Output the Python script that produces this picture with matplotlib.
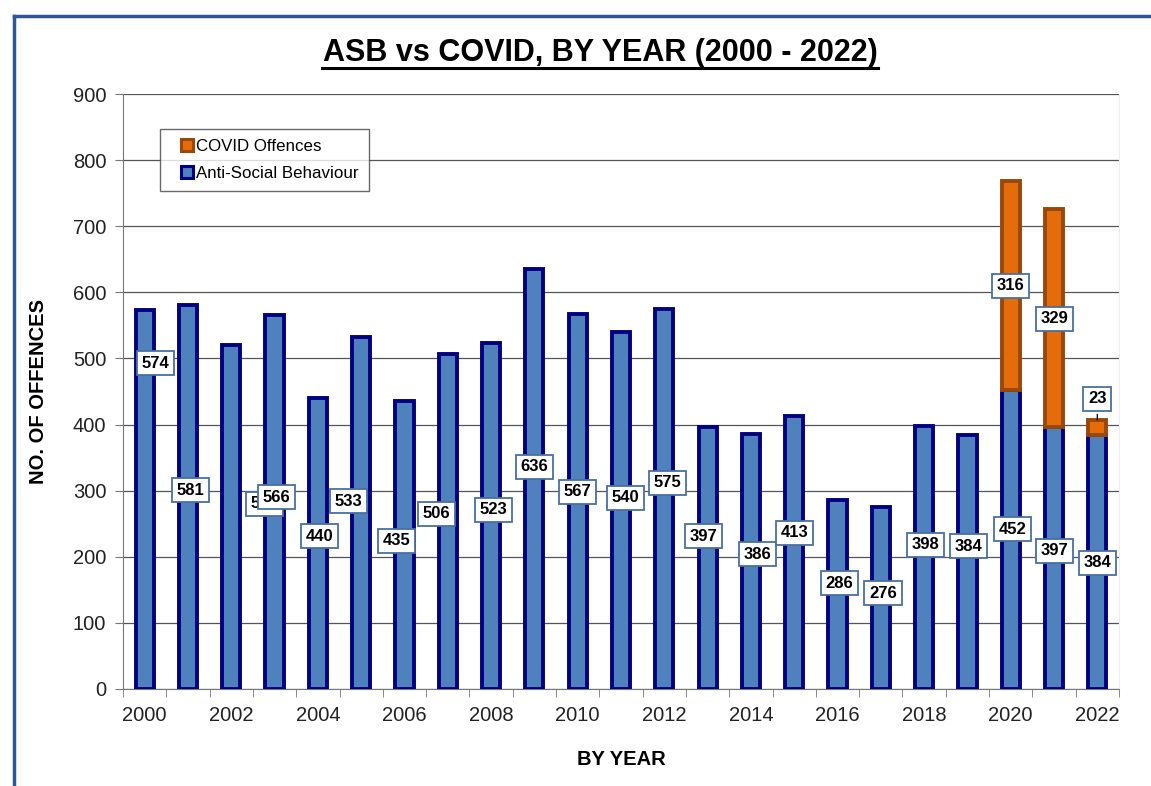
import numpy as np
import matplotlib
matplotlib.use("Agg")
import matplotlib.pyplot as plt
from matplotlib.lines import Line2D

plt.rcParams['font.family'] = ['Liberation Sans', 'DejaVu Sans']

# data
years = list(range(2000, 2023))
asb = [574, 581, 521, 566, 440, 533, 435, 506, 523, 636, 567, 540, 575,
       397, 386, 413, 286, 276, 398, 384, 452, 397, 384]
covid = [0]*20 + [316, 329, 23]

# where the data labels sit (moved by hand in the original)
asb_lab_dx = [0.24, 0.05, 0.76, 0.04, 0.03, -0.30, -0.19, -0.26, 0.05, 0.0, -0.01, 0.1, 0.08,
              -0.1, 0.16, 0.01, 0.05, 0.05, 0.04, 0.03, 0.05, 0.0, 0.0]
asb_lab_y = [493, 301, 280, 290, 231, 284, 224, 265, 271, 336, 298, 289, 312,
             231, 204, 236, 160, 145, 218, 216, 242, 209, 191]
cov_lab_y = {20: 610, 21: 560, 22: 439}

blue_fill = '#4F81BD'
blue_edge = '#000080'
org_fill = '#E46C0A'
org_edge = '#984807'

fig = plt.figure(figsize=(11.51, 7.86), dpi=100)
ax = fig.add_axes([123/1151, 1-689/786, (1119-123)/1151, (689-94)/786])

x = np.arange(len(years))
w = 0.42
ax.bar(x, asb, width=w, color=blue_fill, edgecolor=blue_edge, linewidth=2.8, zorder=3)
cv = [i for i in range(len(years)) if covid[i] > 0]
ax.bar([x[i] for i in cv], [covid[i] for i in cv], width=w, bottom=[asb[i] for i in cv],
       color=org_fill, edgecolor=org_edge, linewidth=2.8, zorder=3)

ax.set_xlim(-0.5, len(years)-0.5)
ax.set_ylim(0, 900)
ax.set_yticks(range(0, 901, 100))
ax.yaxis.grid(True, color='#555555', linewidth=0.9, zorder=0)
ax.spines['top'].set_visible(False)
ax.spines['right'].set_color('#eeeeee')
ax.spines['left'].set_color('#777777')
ax.spines['bottom'].set_color('#777777')
ax.axhline(900, color='#333333', linewidth=1.2, zorder=1)

ax.set_xticks(x[::2])
ax.set_xticklabels([str(y) for y in years[::2]])
ax.set_xticks(np.arange(-0.5, len(years)), minor=True)
ax.tick_params(axis='x', which='major', length=0, pad=12, labelsize=14.5, colors='#222222')
ax.tick_params(axis='x', which='minor', length=6, direction='out', color='#777777')
ax.tick_params(axis='y', length=6, direction='out', color='#777777', labelsize=14.5,
               labelcolor='#222222', pad=6)

box = dict(boxstyle='square,pad=0.28', facecolor='white', edgecolor='#4A6FA0', linewidth=1.3)
for i in range(len(years)):
    ax.text(i + asb_lab_dx[i], asb_lab_y[i], str(asb[i]), ha='center', va='center',
            fontsize=12, fontweight='bold', bbox=box, zorder=5)
for i, yy in cov_lab_y.items():
    if i == 22:
        ax.annotate(str(covid[i]), xy=(i, asb[i]+covid[i]), xytext=(i, yy),
                    ha='center', va='center', fontsize=12, fontweight='bold', bbox=box,
                    arrowprops=dict(arrowstyle='-', color='black', lw=1, shrinkB=0),
                    zorder=5)
    else:
        ax.text(i, yy, str(covid[i]), ha='center', va='center',
                fontsize=12, fontweight='bold', bbox=box, zorder=5)

ax.set_xlabel('BY YEAR', fontsize=14.5, fontweight='bold', labelpad=18)
ax.set_ylabel('NO. OF OFFENCES', fontsize=14.5, fontweight='bold', labelpad=18)

fig.text(600/1151, 1-53/786, 'ASB vs COVID, BY YEAR (2000 - 2022)', ha='center', va='center',
         fontsize=22, fontweight='bold')
fig.add_artist(Line2D([322/1151, 878/1151], [1-68/786, 1-68/786], color='black', linewidth=2.2))

handles = [Line2D([], [], linestyle='none', marker='s', markersize=8.5,
                  markerfacecolor=org_fill, markeredgecolor=org_edge, markeredgewidth=2.2),
           Line2D([], [], linestyle='none', marker='s', markersize=8.5,
                  markerfacecolor=blue_fill, markeredgecolor=blue_edge, markeredgewidth=2.2)]
leg = ax.legend(handles, ['COVID Offences', 'Anti-Social Behaviour'], loc='upper left',
                bbox_to_anchor=(37/996, 1-35/595), fontsize=12.2, frameon=True, fancybox=False,
                edgecolor='#444444', handlelength=2.0, handletextpad=-0.45,
                borderpad=0.6, labelspacing=0.7, borderaxespad=0)
leg.get_frame().set_linewidth(1.0)
leg.set_zorder(6)

# outer frame
fig.add_artist(Line2D([14/1151, 14/1151], [0, 1-16/786], color='#2F5597', linewidth=2.5))
fig.add_artist(Line2D([14/1151, 1], [1-16/786, 1-16/786], color='#2F5597', linewidth=2.5))

fig.savefig('out.png', dpi=100)
